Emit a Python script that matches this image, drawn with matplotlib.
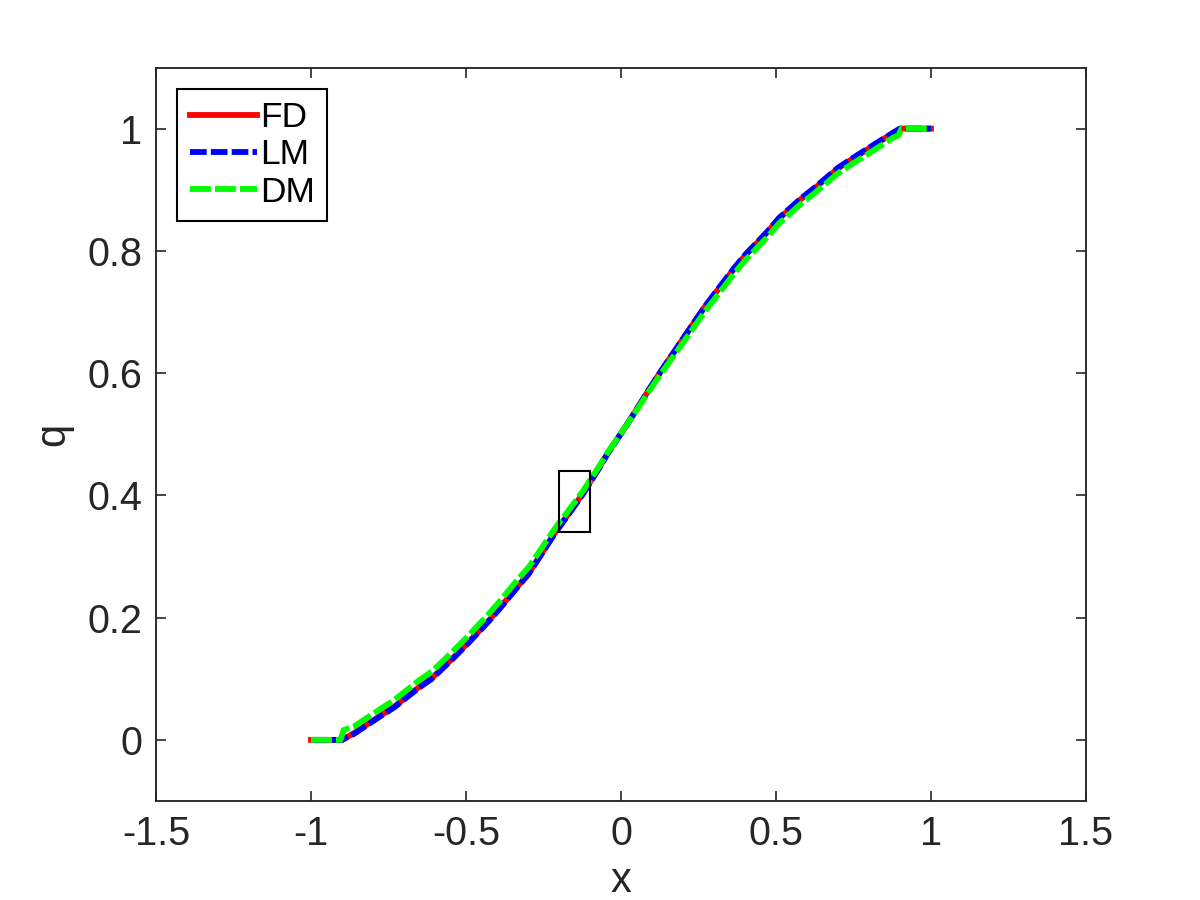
import matplotlib
matplotlib.use('Agg')
import matplotlib.pyplot as plt
from matplotlib.patches import Rectangle

plt.rcParams['font.family'] = ['Liberation Sans', 'DejaVu Sans']
plt.rcParams['lines.scale_dashes'] = False

# data
fd_x = [-1.0, -0.9, -0.861, -0.781, -0.732, -0.655, -0.610, -0.542, -0.497, -0.432,
        -0.394, -0.332, -0.297, -0.213, -0.155, -0.123, -0.071, -0.042, 0.013, 0.042,
        0.094, 0.126, 0.181, 0.213, 0.268, 0.303, 0.365, 0.403, 0.471, 0.510,
        0.581, 0.626, 0.700, 0.748, 0.829, 0.877, 0.9, 1.0]
fd_y = [0.0, 0.0, 0.011, 0.038, 0.054, 0.085, 0.101, 0.134, 0.157, 0.192,
        0.214, 0.252, 0.273, 0.339, 0.380, 0.403, 0.445, 0.470, 0.511, 0.534,
        0.576, 0.601, 0.642, 0.666, 0.707, 0.730, 0.771, 0.794, 0.830, 0.853,
        0.885, 0.903, 0.935, 0.951, 0.977, 0.993, 1.0, 1.0]

lm_x = [-1.0, -0.9, -0.861, -0.781, -0.732, -0.655, -0.610, -0.542, -0.497, -0.432,
        -0.394, -0.332, -0.297, -0.213, -0.155, -0.123, -0.071, -0.042, 0.013, 0.042,
        0.094, 0.126, 0.181, 0.213, 0.268, 0.303, 0.365, 0.403, 0.471, 0.510,
        0.581, 0.626, 0.700, 0.748, 0.829, 0.877, 0.9, 1.0]
lm_y = [0.0, 0.0, 0.010, 0.037, 0.053, 0.084, 0.100, 0.133, 0.156, 0.191,
        0.213, 0.251, 0.272, 0.338, 0.379, 0.402, 0.444, 0.469, 0.511, 0.534,
        0.576, 0.601, 0.642, 0.666, 0.707, 0.731, 0.772, 0.795, 0.831, 0.854,
        0.886, 0.904, 0.936, 0.952, 0.978, 0.993, 1.0, 1.0]

dm_x = [-1.0, -0.905, -0.895, -0.861, -0.781, -0.732, -0.655, -0.610, -0.542, -0.497,
        -0.432, -0.394, -0.332, -0.297, -0.213, -0.155, -0.123, -0.071, -0.042, 0.013,
        0.042, 0.094, 0.126, 0.181, 0.213, 0.268, 0.303, 0.365, 0.403, 0.471,
        0.510, 0.581, 0.626, 0.700, 0.748, 0.829, 0.877, 0.895, 0.905, 1.0]
dm_y = [0.0, 0.0, 0.016, 0.022, 0.049, 0.065, 0.096, 0.112, 0.145, 0.168,
        0.203, 0.225, 0.263, 0.283, 0.346, 0.385, 0.407, 0.447, 0.471, 0.511,
        0.533, 0.573, 0.597, 0.636, 0.659, 0.699, 0.722, 0.763, 0.786, 0.822,
        0.845, 0.877, 0.895, 0.927, 0.943, 0.969, 0.985, 0.989, 1.0, 1.0]

# zoom box
box_x, box_y, box_w, box_h = -0.2, 0.34, 0.1, 0.1

fig = plt.figure(figsize=(8, 6), dpi=150)
ax = fig.add_axes([0.13, 0.11, 0.775, 0.815])

ax.plot(fd_x, fd_y, color='red', lw=2.8, label='FD')
ax.plot(lm_x, lm_y, color='blue', lw=2.8, linestyle=(0, (8, 2)), label='LM')
ax.plot(dm_x, dm_y, color='#00ff00', lw=2.8, linestyle=(0, (10, 2)), label='DM')

ax.add_patch(Rectangle((box_x, box_y), box_w, box_h, fill=False,
                       edgecolor='black', lw=1.0, zorder=5))

ax.set_xlim(-1.5, 1.5)
ax.set_ylim(-0.1, 1.1)
ax.set_xticks([-1.5, -1, -0.5, 0, 0.5, 1, 1.5])
ax.set_xticklabels(['-1.5', '-1', '-0.5', '0', '0.5', '1', '1.5'])
ax.set_yticks([0, 0.2, 0.4, 0.6, 0.8, 1])
ax.set_yticklabels(['0', '0.2', '0.4', '0.6', '0.8', '1'])

dark = '#262626'
ax.tick_params(direction='in', length=4.8, width=0.8, top=True, right=True,
               colors=dark, labelsize=19, pad=6.5)
for s in ax.spines.values():
    s.set_color(dark)
    s.set_linewidth(0.9)

ax.set_xlabel('x', fontsize=20, color=dark, labelpad=4)
ax.set_ylabel('q', fontsize=20, color=dark, labelpad=7)

leg = ax.legend(loc='upper left', fontsize=17, handlelength=1.9,
                handletextpad=0.08, labelspacing=0.12, borderpad=0.35,
                borderaxespad=0.6, fancybox=False, framealpha=1)
leg.get_frame().set_edgecolor('black')
leg.get_frame().set_linewidth(1.0)

fig.savefig('out.png', dpi=150)
